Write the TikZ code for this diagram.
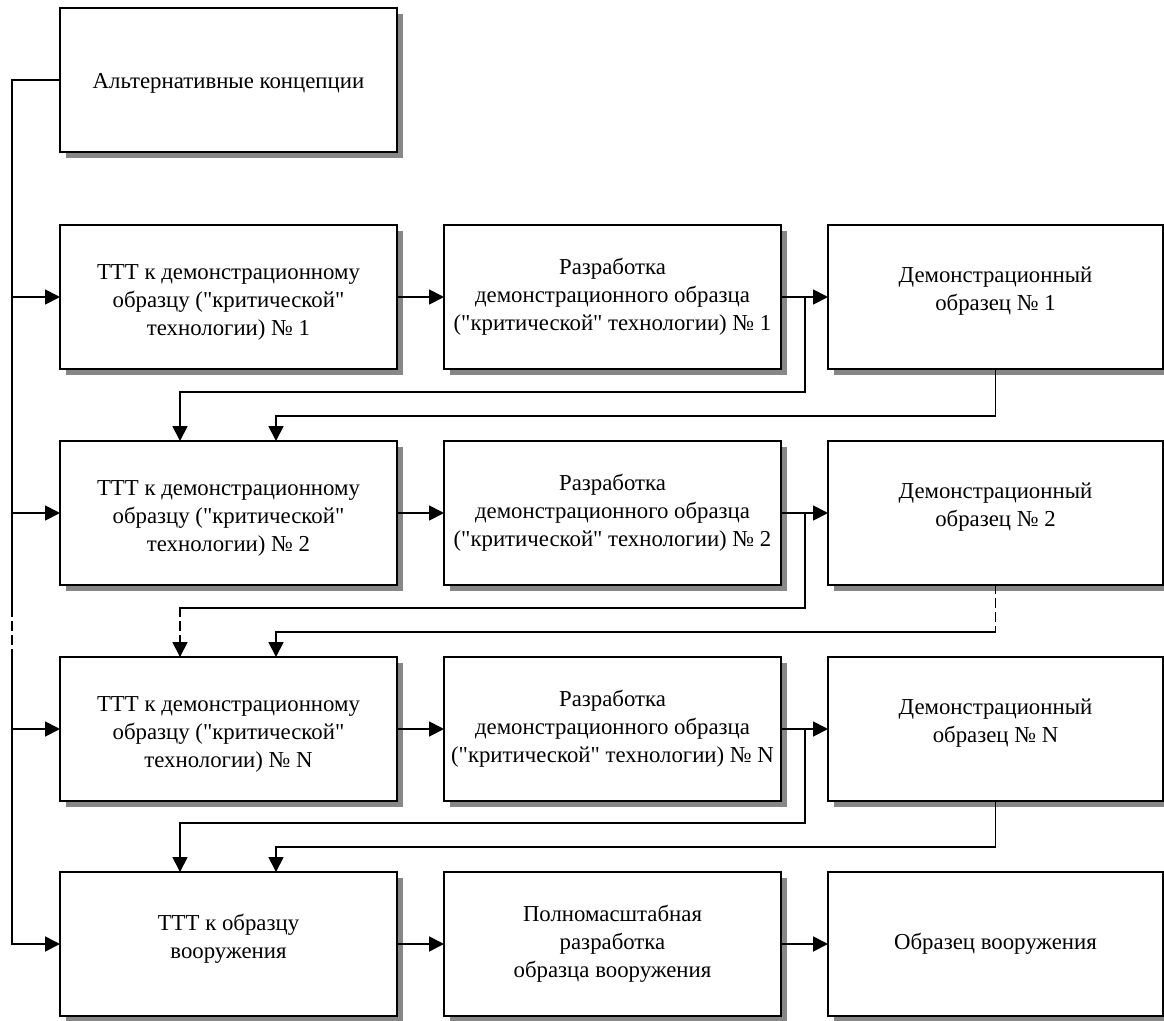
\documentclass[tikz,border=0pt]{standalone}
\usepackage{fontspec}
\setmainfont{Liberation Serif}[Ligatures=TeXOff]
\usetikzlibrary{arrows.meta,shadows,calc}
\begin{document}
\begin{tikzpicture}[x=1pt,y=-1pt,
  box/.style={draw, line width=1.8pt, fill=white, anchor=north west,
    minimum width=337pt, minimum height=144pt, inner sep=0pt, outer sep=0pt,
    drop shadow={shadow xshift=6pt, shadow yshift=-6pt, fill=black!47, opacity=1}},
  rbox/.style={box, minimum width=335pt},
  txt/.style={align=center, inner sep=0pt, font=\fontsize{22.8}{28}\selectfont},
  conn/.style={line width=1.8pt, line cap=rect},
  arr/.style={conn, -{Triangle[length=15pt,width=15pt]}},
  dsh/.style={dash pattern=on 8pt off 6pt}
]
\useasboundingbox (0,0) rectangle (1164,1020);
\clip (0,0) rectangle (1164,1020);

% boxes
\node[box] (a) at (60,8) {};
\node[txt] (ta) at ($(a.center)+(0,3)$) {Альтернативные концепции};

\foreach \r/\y/\s in {1/225/1,2/441/2,3/657/N}{
  \node[box]  (b\r1) at (60,\y)  {};
  \node[box]  (b\r2) at (444,\y) {};
  \node[rbox] (b\r3) at (828,\y) {};
  \node[txt] (t\r1) at ($(b\r1.center)+(0,5)$) {ТТТ к демонстрационному\\образцу ("критической"\\технологии) № \s};
  \node[txt] (t\r2) at ($(b\r2.center)+(0,0)$) {Разработка\\демонстрационного образца\\("критической" технологии) № \s};
  \node[txt] (t\r3) at ($(b\r3.center)+(0,-6)$) {Демонстрационный\\образец № \s};
}

\node[box]  (b41) at (60,872)  {};
\node[box]  (b42) at (444,872) {};
\node[rbox] (b43) at (828,872) {};
\node[txt] (t41) at ($(b41.center)+(0,-5)$) {ТТТ к образцу\\вооружения};
\node[txt] (t42) at (b42.center) {Полномасштабная\\разработка\\образца вооружения};
\node[txt] (t43) at (b43.center) {Образец вооружения};

% left trunk
\coordinate (L0) at (12,80);
\coordinate (Ld1) at (12,608);
\coordinate (Ld2) at (12,657);
\draw[conn] (a.west) -- (L0) -- (Ld1);
\draw[conn,dsh] (Ld1) -- (Ld2);
\draw[conn] (Ld2) -- (b41.west -| L0);
\foreach \r in {1,2,3,4}{
  \draw[arr] (b\r1.west -| L0) -- (b\r1.west);
  \draw[arr] (b\r1.east) -- (b\r2.west);
  \draw[arr] (b\r2.east) -- (b\r3.west);
}

% row transitions 1->2 and 3->4
\foreach \r/\n in {1/2,3/4}{
  \coordinate (p\r) at ($(b\r2.east)+(24,0)$);
  \coordinate (q\r) at ($(b\n1.north west)+(120,-49)$);
  \coordinate (s\r) at ($(b\n1.north west)+(216,-25)$);
  \draw[arr] (p\r) |- (q\r) -- ($(b\n1.north west)+(120,0)$);
  \draw[arr] (b\r3.south) |- (s\r) -- ($(b\n1.north west)+(216,0)$);
}

% row transition 2->3 (partly dashed)
\coordinate (p2) at ($(b22.east)+(24,0)$);
\coordinate (q2) at ($(b31.north west)+(120,-49)$);
\coordinate (s2) at ($(b31.north west)+(216,-25)$);
\coordinate (t2) at (s2 -| b23.south);
\draw[conn] (p2) |- (q2);
\draw[arr,dsh] (q2) -- ($(b31.north west)+(120,0)$);
\draw[conn,dsh] (b23.south) -- (t2);
\draw[arr] (t2) -- (s2) -- ($(b31.north west)+(216,0)$);
\end{tikzpicture}
\end{document}
